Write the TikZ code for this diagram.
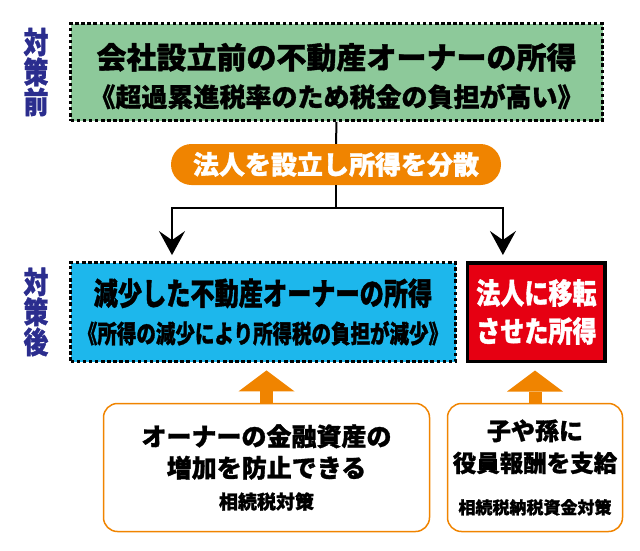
\documentclass[tikz,border=0pt]{standalone}
\usepackage{fontspec}
\newfontfamily\jp{Noto Sans CJK JP}[BoldFeatures={FakeBold=1.2}]
\newfontfamily\jpnarrow{Noto Sans CJK JP}[BoldFeatures={FakeBold=1.2}, FakeStretch=0.78]
\newfontfamily\jpsemi{Noto Sans CJK JP}[BoldFeatures={FakeBold=1.2}, FakeStretch=0.83]
\usetikzlibrary{arrows.meta, positioning}
\definecolor{midori}{RGB}{141,201,154}
\definecolor{mizuiro}{RGB}{29,183,236}
\definecolor{aka}{RGB}{230,0,18}
\definecolor{daidai}{RGB}{240,132,0}
\definecolor{kon}{RGB}{43,45,142}
\tikzset{>={Stealth[length=24pt, width=26pt, inset=9pt]},
  dashbox/.style={draw, line width=2.8pt, dash pattern=on 3.5pt off 2.6pt, inner sep=0pt, align=center},
  memo/.style={draw=daidai, line width=1.5pt, rounded corners=14pt, fill=white, inner sep=0pt, align=center},
  label/.style={text=kon, inner sep=0pt, align=center, font={\jpsemi\bfseries\fontsize{30pt}{30pt}\selectfont}},
  connector/.style={line width=2pt},
  uparrow/.style={draw=daidai, line width=13pt, -{Triangle[length=21pt, width=56pt, line width=0pt]}, shorten >=7.5pt}}

\begin{document}
\begin{tikzpicture}[x=1pt, y=-1pt]
  \useasboundingbox (0,0) rectangle (640,550);
  \node[dashbox, fill=midori, minimum width=532pt, minimum height=97pt,
        font={\jp\bfseries\fontsize{30pt}{40pt}\selectfont}] (genjo) at (336.5,72)
        {\rule{0pt}{34pt}会社設立前の不動産オーナーの所得\\[-2pt]{\fontsize{26pt}{40pt}\selectfont 《超過累進税率のため税金の負担が高い》}};
  \node[fill=daidai, text=white, minimum width=330pt, minimum height=41pt, inner sep=0pt,
        rounded corners=20.5pt, font={\jp\bfseries\fontsize{26pt}{30pt}\selectfont}] (bunsan) at (336,164.5) {法人を設立し所得を分散};
  \node[dashbox, fill=mizuiro, minimum width=385pt, minimum height=99pt,
        font={\jpnarrow\bfseries\fontsize{31pt}{38pt}\selectfont}] (gensho) at (263,312)
        {減少した不動産オーナーの所得\\{\fontsize{25pt}{38pt}\selectfont 《所得の減少により所得税の負担が減少》}};
  \node[draw, line width=3.5pt, fill=aka, text=white, minimum width=137.5pt, minimum height=98.5pt,
        inner sep=0pt, align=center, font={\jpsemi\bfseries\fontsize{29pt}{38pt}\selectfont},
        right=9pt of gensho] (iten) {法人に移転\\させた所得};
  \node[label, left=20.5pt of genjo] (mae) {対\\策\\前};
  \node[label, left=20.5pt of gensho] (go) {対\\策\\後};
  \node[memo, minimum width=326pt, minimum height=128pt,
        font={\jp\bfseries\fontsize{25pt}{31.5pt}\selectfont}] (kinyu) at (266.5,467.5)
        {オーナーの金融資産の\\増加を防止できる\\{\fontsize{19pt}{31.5pt}\selectfont 相続税対策}};
  \node[memo, minimum width=175pt, minimum height=128pt,
        font={\jp\bfseries\fontsize{24pt}{32pt}\selectfont}] (yakuin) at (535,467.5)
        {子や孫に\\{\fontsize{23.5pt}{32pt}\selectfont 役員報酬を支給}\\[10pt]{\fontsize{17pt}{32pt}\selectfont 相続税納税資金対策}};
  % split of the income
  \coordinate (bunki) at (336,208);
  \draw[connector] (genjo.south) -- (bunsan.north);
  \draw[connector, ->] (bunsan.south) -- (bunki) -| ([xshift=-91pt, yshift=6pt]gensho.north);
  \draw[connector, ->] (bunki) -| ([xshift=-33.5pt, yshift=6pt]iten.north);
  \draw[uparrow] (kinyu.north) -- (kinyu.north |- gensho.south);
  \draw[uparrow] (yakuin.north) -- (yakuin.north |- iten.south);
\end{tikzpicture}
\end{document}
